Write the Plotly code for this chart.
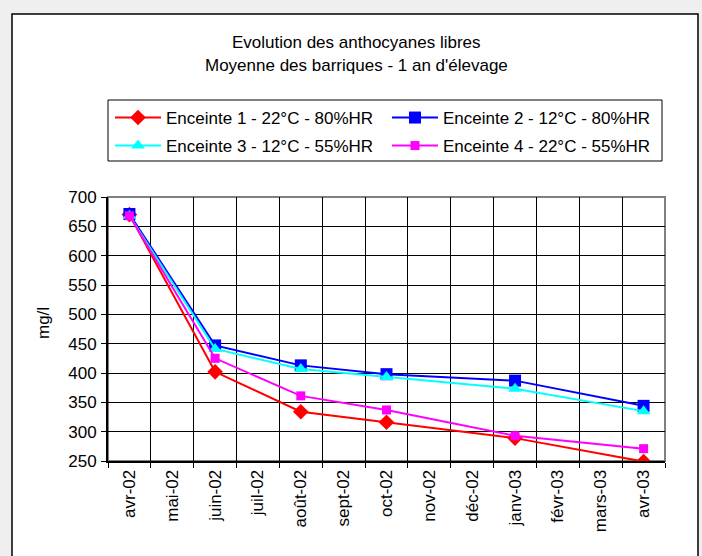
import plotly.graph_objects as go

months = ["avr-02", "mai-02", "juin-02", "juil-02", "août-02", "sept-02", "oct-02",
          "nov-02", "déc-02", "janv-03", "févr-03", "mars-03", "avr-03"]
sample_months = ["avr-02", "juin-02", "août-02", "oct-02", "janv-03", "avr-03"]

enceinte1 = [670, 402, 334, 316, 289, 249]
enceinte2 = [671, 447, 413, 398, 387, 344]
enceinte3 = [668, 441, 407, 393, 373, 335]
enceinte4 = [668, 425, 361, 337, 293, 271]

names = ["Enceinte 1 - 22°C - 80%HR", "Enceinte 2 - 12°C - 80%HR",
         "Enceinte 3 - 12°C - 55%HR", "Enceinte 4 - 22°C - 55%HR"]
series = [enceinte1, enceinte2, enceinte3, enceinte4]
colors = ["#ff0000", "#0000ff", "#00ffff", "#ff00ff"]
symbols = ["diamond", "square", "triangle-up", "square"]
sizes = [12, 12, 12, 9]
legend_ids = ["legend", "legend", "legend2", "legend2"]

FONT = "Liberation Sans, Arial, sans-serif"
FS = 17
W, H = 702, 556
L, R, T, B = 108, 665, 197, 461

def px(x):
    return (x - L) / (R - L)

def py(y):
    return (B - y) / (B - T)

fig = go.Figure()
for i in range(4):
    fig.add_trace(go.Scatter(
        x=sample_months, y=series[i], name=names[i], mode="lines+markers",
        line=dict(color=colors[i], width=2),
        marker=dict(symbol=symbols[i], size=sizes[i], color=colors[i]),
        legend=legend_ids[i],
    ))

leg_common = dict(
    orientation="h", xanchor="left", yanchor="top",
    borderwidth=0, bgcolor="rgba(0,0,0,0)",
    entrywidth=216, entrywidthmode="pixels",
    font=dict(family=FONT, size=FS), traceorder="normal",
    itemwidth=46,
)

fig.update_layout(
    width=W, height=H, autosize=False,
    margin=dict(l=L, r=W - R, t=T, b=H - B, pad=0),
    paper_bgcolor="#efefef", plot_bgcolor="white",
    font=dict(family=FONT, size=FS, color="black"),
    showlegend=True,
    legend=dict(x=px(110), y=py(100), **leg_common),
    legend2=dict(x=px(110), y=py(128), **leg_common),
    xaxis=dict(
        type="category", categoryorder="array", categoryarray=months,
        range=[-0.5, 12.5], tickson="boundaries", ticks="outside", ticklen=5,
        tickcolor="black", showgrid=True, gridcolor="black", gridwidth=1,
        showline=True, linecolor="black", linewidth=2, tickangle=-90,
        tickfont=dict(family=FONT, size=FS), zeroline=False,
    ),
    yaxis=dict(
        range=[250, 700], dtick=50, ticks="outside", ticklen=5, tickcolor="black",
        showgrid=True, gridcolor="black", gridwidth=1, showline=True,
        linecolor="black", linewidth=2, zeroline=False,
        tickfont=dict(family=FONT, size=FS), ticklabelstandoff=1,
    ),
)

# outer chart area
fig.add_shape(type="rect", xref="paper", yref="paper",
              x0=px(12), x1=px(698), y0=py(570), y1=py(14),
              line=dict(color="black", width=1.5), fillcolor="white", layer="below")
# legend box
fig.add_shape(type="rect", xref="paper", yref="paper",
              x0=px(108), x1=px(662), y0=py(161), y1=py(100),
              line=dict(color="black", width=1), layer="above")
# plot area border (grey)
fig.add_shape(type="rect", xref="paper", yref="paper",
              x0=0, x1=1, y0=0, y1=1,
              line=dict(color="#808080", width=2), layer="between")

fig.add_annotation(text="Evolution des anthocyanes libres", xref="paper", yref="paper",
                   x=px(356), y=py(42), xanchor="center", yanchor="middle",
                   showarrow=False, font=dict(family=FONT, size=FS))
fig.add_annotation(text="Moyenne des barriques - 1 an d'élevage", xref="paper", yref="paper",
                   x=px(356), y=py(65), xanchor="center", yanchor="middle",
                   showarrow=False, font=dict(family=FONT, size=FS))
fig.add_annotation(text="mg/l", xref="paper", yref="paper", textangle=-90,
                   x=px(43), y=py(323), xanchor="center", yanchor="middle",
                   showarrow=False, font=dict(family=FONT, size=FS))

fig.write_html("out.html")
